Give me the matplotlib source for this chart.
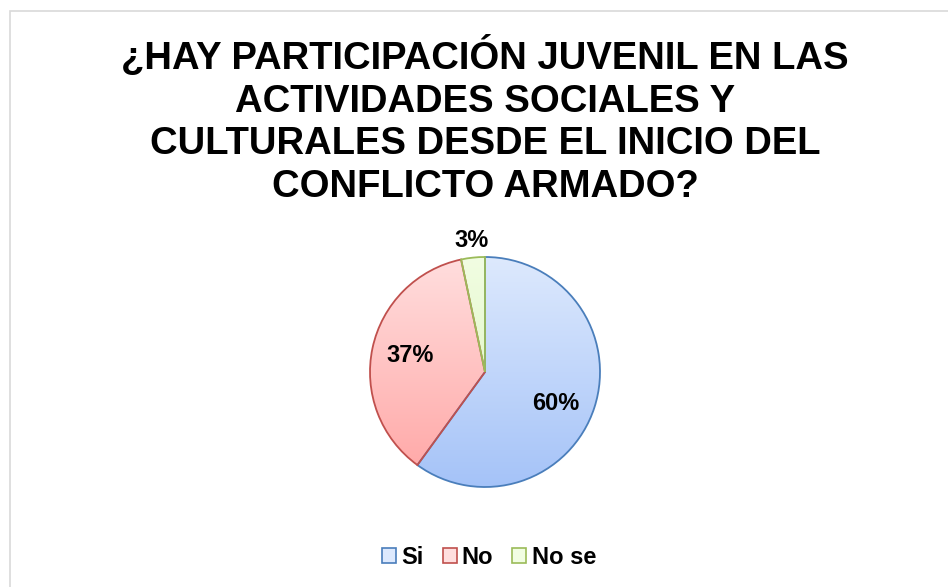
import numpy as np
import matplotlib
matplotlib.use("Agg")
import matplotlib.pyplot as plt
from matplotlib.colors import LinearSegmentedColormap
from matplotlib.patches import Rectangle, Patch

plt.rcParams['font.family'] = ['Liberation Sans', 'DejaVu Sans']

title = "¿HAY PARTICIPACIÓN JUVENIL EN LAS\nACTIVIDADES SOCIALES Y\nCULTURALES DESDE EL INICIO DEL\nCONFLICTO ARMADO?"
categories = ["Si", "No", "No se"]
values = [18, 11, 1]  # counts -> 60%, 37%, 3%
top_colors = ["#dde9fd", "#ffdede", "#f1fde2"]
bottom_colors = ["#a5c3f8", "#ffa5a4", "#d9f4b8"]
edge_colors = ["#4a7ebb", "#c0504d", "#9bbb59"]

W, H = 948, 587
fig = plt.figure(figsize=(W / 100, H / 100), dpi=100)
ax = fig.add_axes([0, 0, 1, 1])

cx, cy, r = 485, H - 372, 115
wedges, texts, autotexts = ax.pie(
    values, center=(cx, cy), radius=r, startangle=90, counterclock=False,
    autopct=lambda p: f"{p:.0f}%", pctdistance=0.67,
    textprops=dict(fontsize=17, fontweight='bold', color='black'),
    wedgeprops=dict(linewidth=1.3), frame=True)

grad = np.linspace(0, 1, 256).reshape(-1, 1)
for w, tc, bc, ec in zip(wedges, top_colors, bottom_colors, edge_colors):
    cmap = LinearSegmentedColormap.from_list("g", [tc, bc])
    im = ax.imshow(grad, cmap=cmap, extent=(cx - r, cx + r, cy - r, cy + r),
                   origin='upper', aspect='auto', zorder=1)
    im.set_clip_path(w)
    w.set_facecolor('none')
    w.set_edgecolor(ec)
    w.set_zorder(2)

# label placement (Excel-like)
label_dist = [0.67, 0.67, 1.15]
label_rot = [-6, 0, 0]  # small angular shift in degrees
for w, t, d, rot in zip(wedges, autotexts, label_dist, label_rot):
    mid = np.deg2rad((w.theta1 + w.theta2) / 2 + rot)
    t.set_position((cx + d * r * np.cos(mid), cy + d * r * np.sin(mid)))
    t.set_zorder(5)

ax.set_xlim(0, W)
ax.set_ylim(0, H)
ax.set_aspect('auto')
ax.axis('off')

# outer border
ax.add_patch(Rectangle((10, -5), W, H - 11 + 5, fill=False, edgecolor='#d9d9d9', linewidth=1.2, zorder=0))

ax.text(485, H - 120.5, title, ha='center', va='center', fontsize=27.5, fontweight='bold',
        linespacing=1.23, color='black')

handles = [Patch(facecolor=tc, edgecolor=ec, linewidth=1.2) for tc, ec in zip(top_colors, edge_colors)]
leg = ax.legend(handles, categories, loc='center', bbox_to_anchor=(489 / W, (H - 557) / H),
                ncol=3, frameon=False, prop=dict(size=17, weight='bold'),
                handlelength=0.6, handleheight=0.6, handletextpad=0.22, columnspacing=0.8)

fig.savefig("out.png", dpi=100)
